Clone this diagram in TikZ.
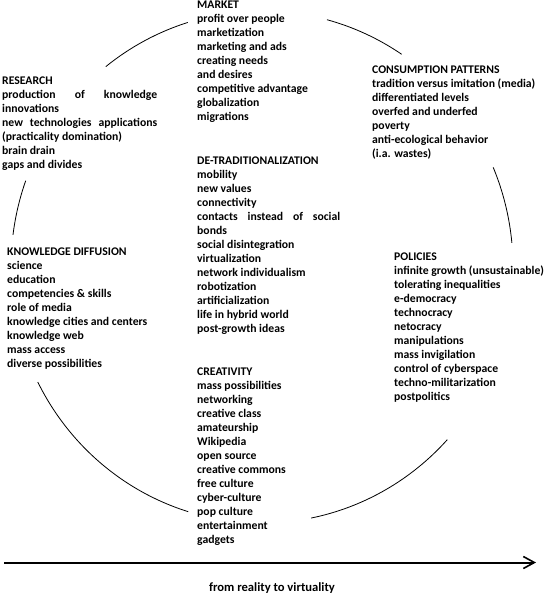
\documentclass[tikz,border=0pt]{standalone}
\usepackage{fontspec}
\setmainfont{Carlito}
\usepackage{tikz}
\usetikzlibrary{arrows.meta, positioning}

\begin{document}
\begin{tikzpicture}[x=1pt, y=1pt]

\tikzstyle{block}=[anchor=north west,inner sep=0pt,align=left,font=\bfseries\fontsize{11.7}{14}\selectfont]
\tikzstyle{ring}=[draw, line width=0.8pt]
\tikzstyle{axis}=[draw, line width=2pt, -{Straight Barb[length=11pt,width=12pt,line width=1.6pt]}]

\useasboundingbox (0,0) rectangle (544,-593);

\coordinate (hub) at (262,-267);

\node (market) [block] at (197,-0.6) {MARKET\\profit over people\\marketization\\marketing and ads\\creating needs\\and desires\\competitive advantage\\globalization\\migrations};

\node (research) [block] at (2,-76.6) {RESEARCH\\\makebox[155pt][s]{production of knowledge}\\innovations\\\makebox[155pt][s]{new technologies applications}\\(practicality domination)\\brain drain\\gaps and divides};

\node (consumption) [block] at (372,-65.6) {CONSUMPTION PATTERNS\\tradition versus imitation (media)\\differentiated levels\\overfed and underfed\\poverty\\anti-ecological behavior\\(i.a. wastes)};

\node (detrad) [block] at (197,-156.6) {DE-TRADITIONALIZATION\\mobility\\new values\\connectivity\\\makebox[143pt][s]{contacts instead of social}\\bonds\\social disintegration\\virtualization\\network individualism\\robotization\\artificialization\\life in hybrid world\\post-growth ideas};

\node (diffusion) [block] at (7,-247.6) {KNOWLEDGE DIFFUSION\\science\\education\\competencies \& skills\\role of media\\knowledge cities and centers\\knowledge web\\mass access\\diverse possibilities};

\node (policies) [block] at (394,-252.6) {POLICIES\\infinite growth (unsustainable)\\tolerating inequalities\\e-democracy\\technocracy\\netocracy\\manipulations\\mass invigilation\\control of cyberspace\\techno-militarization\\postpolitics};

\node (creativity) [block] at (197,-367.6) {CREATIVITY\\mass possibilities\\networking\\creative class\\amateurship\\Wikipedia\\open source\\creative commons\\free culture\\cyber-culture\\pop culture\\entertainment\\gadgets};

% Ring segments
\draw[ring] ([shift={(128.5:251 and 256)}]hub) arc[start angle=128.5, end angle=107.2, x radius=251, y radius=256];
\draw[ring] ([shift={(75:251 and 256)}]hub) arc[start angle=75, end angle=56.2, x radius=251, y radius=256];
\draw[ring] ([shift={(22.9:251 and 256)}]hub) arc[start angle=22.9, end angle=5.4, x radius=251, y radius=256];
\draw[ring] ([shift={(-42.4:251 and 256)}]hub) arc[start angle=-42.4, end angle=-78.7, x radius=251, y radius=256];
\draw[ring] ([shift={(-107.1:251 and 256)}]hub) arc[start angle=-107.1, end angle=-153.3, x radius=251, y radius=256];
\draw[ring] ([shift={(172.8:251 and 256)}]hub) arc[start angle=172.8, end angle=160.3, x radius=251, y radius=256];

% Axis
\coordinate (axisstart) at (4,-562.5);
\coordinate (axisend) at (536,-562.5);
\draw[axis] (axisstart) -- (axisend);

\node (caption) [block,anchor=base,font=\bfseries\fontsize{12.6}{14}\selectfont] at (272,-591) {from reality to virtuality};

\end{tikzpicture}
\end{document}
